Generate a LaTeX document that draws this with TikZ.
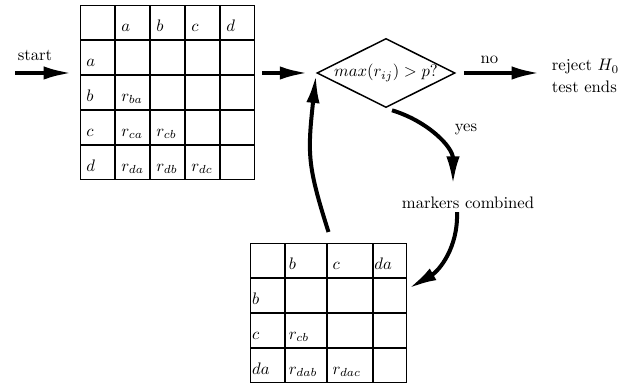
\documentclass[tikz,border=0pt]{standalone}
\usetikzlibrary{matrix,shapes.geometric,arrows.meta,bending,calc}
\begin{document}
\begin{tikzpicture}[x=0.6pt,y=0.6pt,
  flow/.style={line width=2.4pt,-{Latex[length=17pt,width=8pt,quick]}},
  flexflow/.style={line width=2.4pt,-{Latex[length=17pt,width=8pt,flex]}},
  grid/.style={matrix of math nodes, nodes in empty cells,
    column sep=0pt, row sep=0pt, inner sep=0pt, outer sep=0pt,
    nodes={draw, line width=0.6pt, outer sep=0pt, inner ysep=0pt,
      minimum height=20.4pt, text height=11pt, text depth=0.5pt,
      align=left, text width=13.4pt, inner xsep=3.5pt}},
  decision/.style={draw, diamond, aspect=2, line width=0.9pt, inner sep=0pt,
    minimum width=81.6pt, minimum height=40.8pt},
  lbl/.style={inner sep=0pt}
]
\useasboundingbox (0,0) rectangle (639,383);

% first distance table
\matrix (m1) [grid, anchor=north west] at (80,378) {
    & a      & b      & c      & d \\
  a &        &        &        &   \\
  b & r_{ba} &        &        &   \\
  c & r_{ca} & r_{cb} &        &   \\
  d & r_{da} & r_{db} & r_{dc} &   \\
};

% reduced table after merging
\matrix (m2) [grid, anchor=north west,
  column 1/.style={nodes={text width=18.4pt, inner xsep=1pt}},
  column 2/.style={nodes={text width=20.6pt, inner xsep=2pt}},
  column 3/.style={nodes={text width=21pt, inner xsep=3pt}},
  column 4/.style={nodes={text width=18.8pt, inner xsep=0.5pt}}] at (250,140) {
     & b       & c       & da \\
  b  &         &         &    \\
  c  & r_{cb}  &         &    \\
  da & r_{dab} & r_{dac} &    \\
};

% decision and labels
\node (d) [decision] at (386,310) {$max(r_{ij}) > p?$};
\coordinate (in) at (15,310);
\node (st) [lbl] at (35,328) {start};
\node (lno) [lbl] at (489.5,323) {no};
\node (lyes) [lbl] at (466,254) {yes};
\node (rej) [lbl, anchor=west, align=left] at (551.5,307) {reject $H_0$\\[1.2pt]test ends};
\node (mc) [lbl] at (468,180) {markers combined};

% connectors
\draw[flow, shorten >=4.8pt] (in) -- (in -| m1.west);
\draw[flow, shorten <=4.2pt, shorten >=4.8pt] (m1.east |- d.west) -- (d.west);
\draw[flow, shorten <=4.8pt, shorten >=6.9pt] (d.east) -- (d.east -| rej.west);
\draw[flow] ($(d.south)+(6,-2)$) to[out=-17, in=90] ($(mc.north)+(-15,12)$);
\draw[flow] ($(mc.south)+(-11,-3)$) to[out=-88, in=30] ($(m2-2-4.east)+(2,7)$);
\draw[flexflow, shorten >=1pt] ($(m2.north)+(0,11)$) .. controls (304,228) and (308,231) .. (d.west);
\end{tikzpicture}
\end{document}
